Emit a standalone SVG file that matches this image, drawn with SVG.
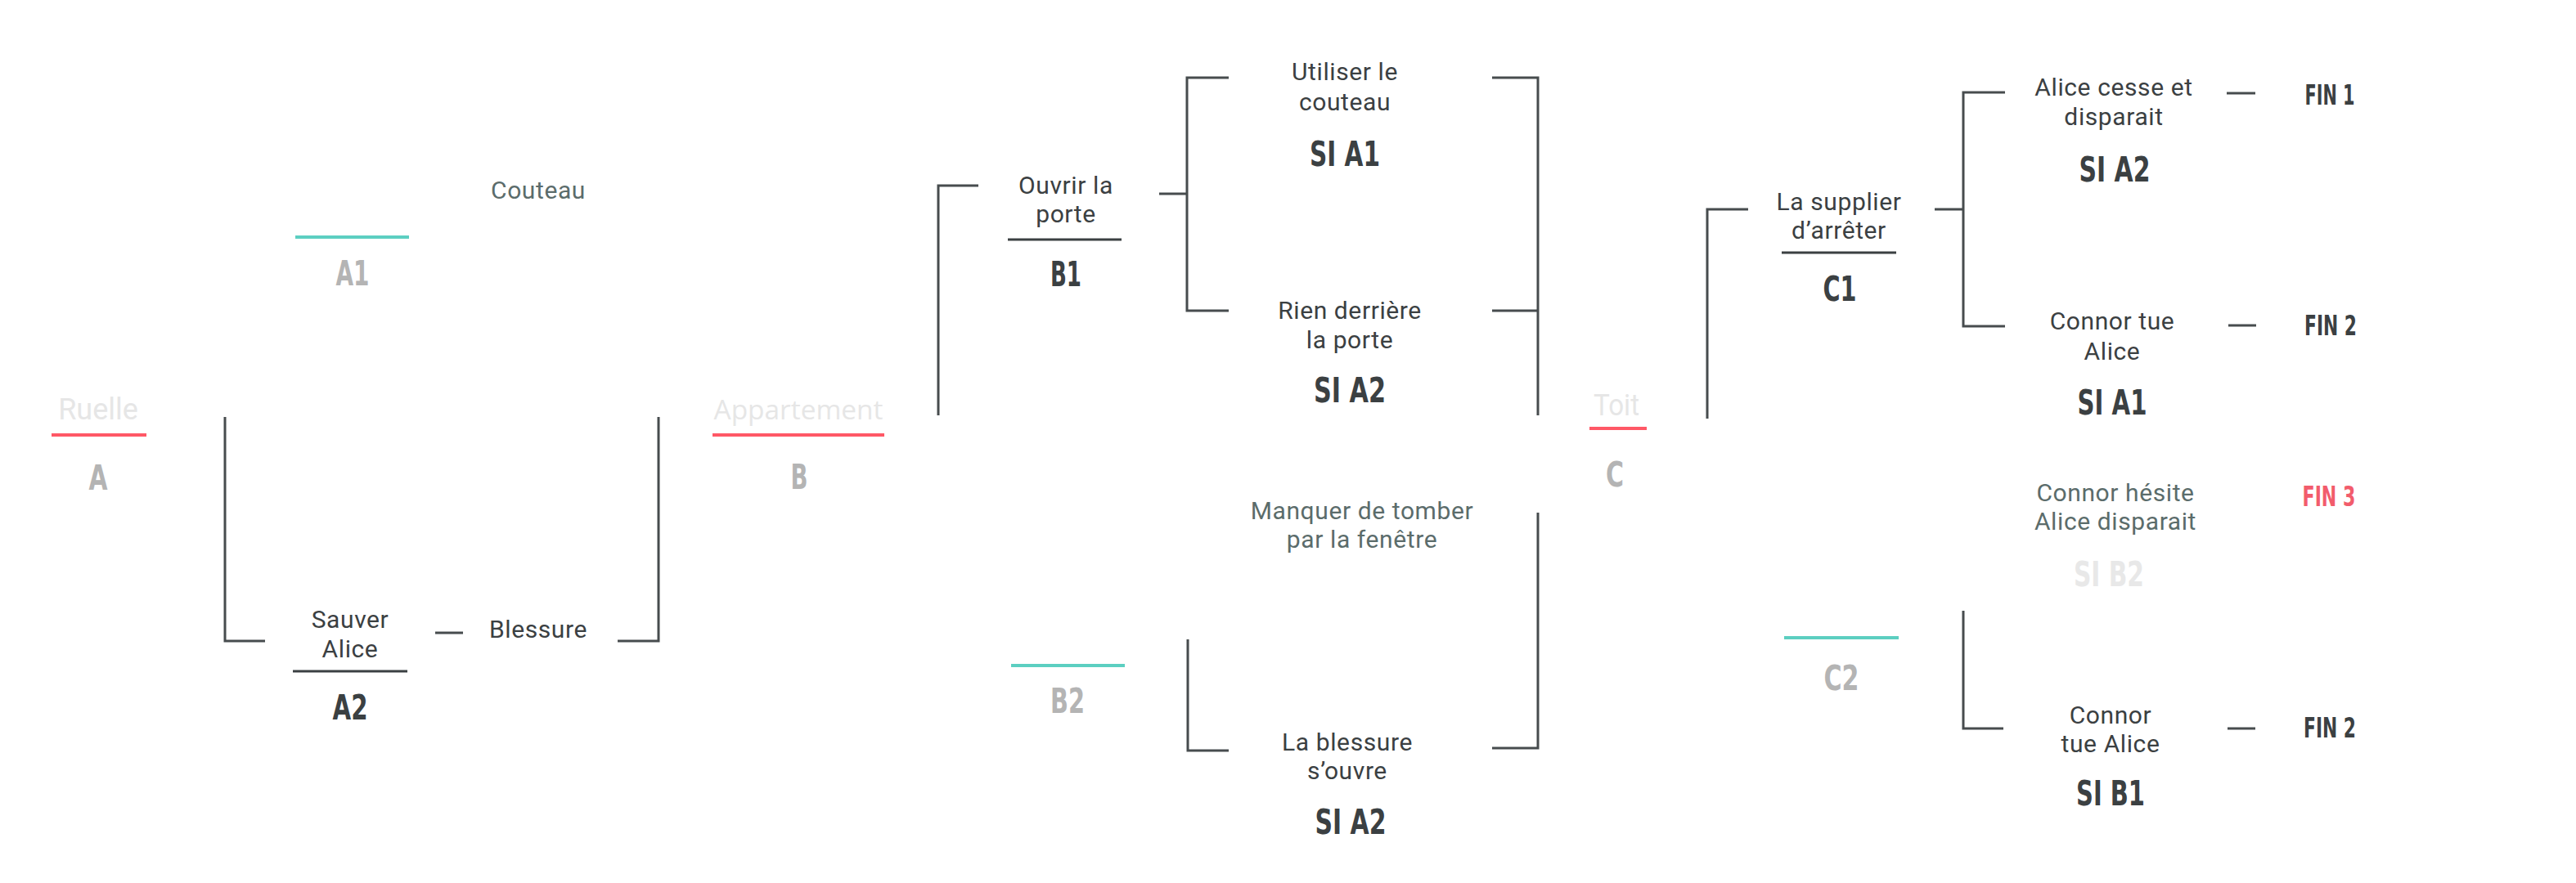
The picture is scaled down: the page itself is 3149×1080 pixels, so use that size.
<svg xmlns="http://www.w3.org/2000/svg" width="3149" height="1080" viewBox="0 0 3149 1080">
<style>
.t{font-family:Roboto,"Liberation Sans",sans-serif;font-size:30px;letter-spacing:0.6px;fill:#3b4042;text-anchor:middle}
.s{fill:#5b6c6b}
.h{font-size:36px;letter-spacing:0;fill:#e6e6e6}
.ap{font-family:"Open Sans","Liberation Sans",sans-serif;font-size:33px}
.b{font-family:"DejaVu Sans Condensed","DejaVu Sans",sans-serif;font-weight:bold;font-size:43px;fill:#3b4042;text-anchor:middle}
.g{fill:#b4b4b4}
.vl{fill:#e8e8e8}
.f{font-size:33px}
.red{fill:#f25c6c}
.ln{stroke:#474c4e;stroke-width:3;fill:none}
.ur{stroke:#ff5866;stroke-width:4}
.ut{stroke:#5ccfc1;stroke-width:4}
.ud{stroke:#3b4042;stroke-width:3}
</style>
<rect width="3149" height="1080" fill="#ffffff"/>
<g id="connectors" class="ln">
<path d="M275,510V784H324"/>
<path d="M755,784H805V510"/>
<path d="M532,774H566"/>
<path d="M1147,508V227H1196"/>
<path d="M1417,237H1451"/>
<path d="M1502,95H1451V380H1502"/>
<path d="M1824,95H1880V508"/>
<path d="M1824,380H1880"/>
<path d="M1452,782V918H1502"/>
<path d="M1824,915H1880V627"/>
<path d="M2087,512V256H2137"/>
<path d="M2365,256H2400"/>
<path d="M2451,113H2400V399H2451"/>
<path d="M2400,747V891H2449"/>
<path d="M2722,114H2757"/>
<path d="M2724,398H2758"/>
<path d="M2723,891H2757"/>
</g>
<g id="node-A">
<text class="t h" x="120" y="513">Ruelle</text>
<line class="ur" x1="63" y1="532" x2="179" y2="532"/>
<text class="b g" x="120" y="599" textLength="23" lengthAdjust="spacingAndGlyphs">A</text>
</g>
<g id="node-A1">
<text class="t s" x="658" y="243">Couteau</text>
<line class="ut" x1="361" y1="290" x2="500" y2="290"/>
<text class="b g" x="431" y="349" textLength="41" lengthAdjust="spacingAndGlyphs">A1</text>
</g>
<g id="node-A2">
<text class="t" x="428" y="768">Sauver</text>
<text class="t" x="428" y="804">Alice</text>
<line class="ud" x1="358" y1="821" x2="498" y2="821"/>
<text class="b" x="428" y="880" textLength="43" lengthAdjust="spacingAndGlyphs">A2</text>
</g>
<g id="node-blessure">
<text class="t" x="658" y="780">Blessure</text>
</g>
<g id="node-B">
<text class="t h ap" x="976" y="513" textLength="207" lengthAdjust="spacingAndGlyphs">Appartement</text>
<line class="ur" x1="871" y1="532" x2="1081" y2="532"/>
<text class="b g" x="977" y="598" textLength="21" lengthAdjust="spacingAndGlyphs">B</text>
</g>
<g id="node-B1">
<text class="t" x="1303" y="237">Ouvrir la</text>
<text class="t" x="1303" y="272">porte</text>
<line class="ud" x1="1232" y1="293" x2="1371" y2="293"/>
<text class="b" x="1303" y="350" textLength="38" lengthAdjust="spacingAndGlyphs">B1</text>
</g>
<g id="node-B2">
<line class="ut" x1="1236" y1="814" x2="1375" y2="814"/>
<text class="b g" x="1305" y="872" textLength="42" lengthAdjust="spacingAndGlyphs">B2</text>
</g>
<g id="node-utiliser">
<text class="t" x="1644" y="98">Utiliser le</text>
<text class="t" x="1644" y="135">couteau</text>
<text class="b" x="1644" y="203" textLength="86" lengthAdjust="spacingAndGlyphs">SI A1</text>
</g>
<g id="node-rien">
<text class="t" x="1650" y="390">Rien derrière</text>
<text class="t" x="1650" y="426">la porte</text>
<text class="b" x="1650" y="492" textLength="88" lengthAdjust="spacingAndGlyphs">SI A2</text>
</g>
<g id="node-manquer">
<text class="t s" x="1665" y="635">Manquer de tomber</text>
<text class="t s" x="1665" y="670">par la fenêtre</text>
</g>
<g id="node-blessure-ouvre">
<text class="t" x="1647" y="918">La blessure</text>
<text class="t" x="1647" y="953">s’ouvre</text>
<text class="b" x="1651" y="1020" textLength="87" lengthAdjust="spacingAndGlyphs">SI A2</text>
</g>
<g id="node-C">
<text class="t h" x="1976" y="508" textLength="56" lengthAdjust="spacingAndGlyphs">Toit</text>
<line class="ur" x1="1943" y1="524" x2="2013" y2="524"/>
<text class="b g" x="1974" y="595" textLength="22" lengthAdjust="spacingAndGlyphs">C</text>
</g>
<g id="node-C1">
<text class="t" x="2248" y="257">La supplier</text>
<text class="t" x="2248" y="292">d’arrêter</text>
<line class="ud" x1="2178" y1="309" x2="2318" y2="309"/>
<text class="b" x="2249" y="368" textLength="41" lengthAdjust="spacingAndGlyphs">C1</text>
</g>
<g id="node-C2">
<line class="ut" x1="2181" y1="780" x2="2321" y2="780"/>
<text class="b g" x="2251" y="844" textLength="43" lengthAdjust="spacingAndGlyphs">C2</text>
</g>
<g id="node-alice-cesse">
<text class="t" x="2584" y="117">Alice cesse et</text>
<text class="t" x="2584" y="153">disparait</text>
<text class="b" x="2585" y="222" textLength="87" lengthAdjust="spacingAndGlyphs">SI A2</text>
</g>
<g id="node-connor-tue-1">
<text class="t" x="2582" y="403">Connor tue</text>
<text class="t" x="2582" y="440">Alice</text>
<text class="b" x="2582" y="507" textLength="85" lengthAdjust="spacingAndGlyphs">SI A1</text>
</g>
<g id="node-connor-hesite">
<text class="t s" x="2586" y="613">Connor hésite</text>
<text class="t s" x="2586" y="648">Alice disparait</text>
<text class="b vl" x="2578" y="717" textLength="86" lengthAdjust="spacingAndGlyphs">SI B2</text>
</g>
<g id="node-connor-tue-2">
<text class="t" x="2580" y="885">Connor</text>
<text class="t" x="2580" y="920">tue Alice</text>
<text class="b" x="2580" y="985" textLength="84" lengthAdjust="spacingAndGlyphs">SI B1</text>
</g>
<g id="node-fin1">
<text class="b f" x="2848" y="128" textLength="61" lengthAdjust="spacingAndGlyphs">FIN 1</text>
</g>
<g id="node-fin2a">
<text class="b f" x="2849" y="410" textLength="64" lengthAdjust="spacingAndGlyphs">FIN 2</text>
</g>
<g id="node-fin3">
<text class="b f red" x="2847" y="619" textLength="65" lengthAdjust="spacingAndGlyphs">FIN 3</text>
</g>
<g id="node-fin2b">
<text class="b f" x="2848" y="902" textLength="64" lengthAdjust="spacingAndGlyphs">FIN 2</text>
</g>
</svg>
